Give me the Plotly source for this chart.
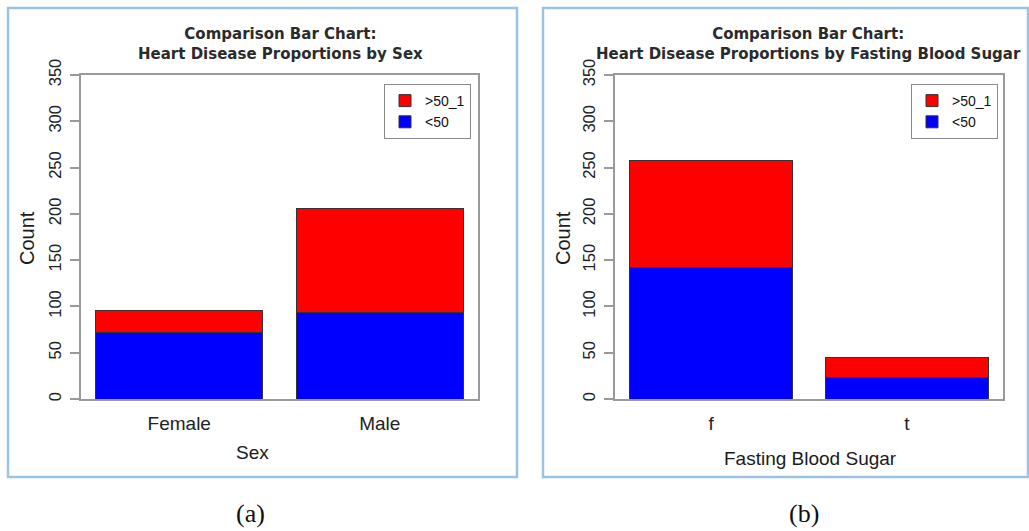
import plotly.graph_objects as go

W, H = 1029, 531

# ---- data ----
sex_categories = ["Female", "Male"]
sex_lt50 = [72, 93]
sex_gt50 = [24, 113]

fbs_categories = ["f", "t"]
fbs_lt50 = [142, 23]
fbs_gt50 = [116, 22]

y_ticks = [0, 50, 100, 150, 200, 250, 300, 350]
series_names = ["<50", ">50_1"]
series_colors = ["#0000FF", "#FF0000"]


def px(x):
    return x / W


def py(y):
    return 1 - y / H


fig = go.Figure()

# left panel
fig.add_trace(go.Bar(x=sex_categories, y=sex_lt50, name=series_names[0],
                     marker=dict(color=series_colors[0], line=dict(color="#333333", width=1)),
                     xaxis="x", yaxis="y", legend="legend"))
fig.add_trace(go.Bar(x=sex_categories, y=sex_gt50, name=series_names[1],
                     marker=dict(color=series_colors[1], line=dict(color="#333333", width=1)),
                     xaxis="x", yaxis="y", legend="legend"))
# right panel
fig.add_trace(go.Bar(x=fbs_categories, y=fbs_lt50, name=series_names[0],
                     marker=dict(color=series_colors[0], line=dict(color="#333333", width=1)),
                     xaxis="x2", yaxis="y2", legend="legend2"))
fig.add_trace(go.Bar(x=fbs_categories, y=fbs_gt50, name=series_names[1],
                     marker=dict(color=series_colors[1], line=dict(color="#333333", width=1)),
                     xaxis="x2", yaxis="y2", legend="legend2"))

axis_line = "#9a9a9a"
tick_font = dict(family="Liberation Sans, Arial, sans-serif", size=16.5, color="#222222")
cat_font = dict(family="Liberation Sans, Arial, sans-serif", size=19, color="#222222")


def xaxis_cfg(domain, anchor):
    return dict(domain=domain, anchor=anchor, range=[-0.49, 1.49], showline=True,
                mirror=True, linecolor=axis_line, linewidth=1.5, ticks="",
                showgrid=False, zeroline=False, tickfont=cat_font, automargin=False,
                ticklabelstandoff=6, fixedrange=True)


def yaxis_cfg(domain, anchor):
    return dict(domain=domain, anchor=anchor, range=[0, 350], tickvals=y_ticks,
                showline=True, mirror=True, linecolor=axis_line, linewidth=1.5,
                ticks="outside", ticklen=9, tickcolor=axis_line, tickwidth=1.5,
                showgrid=False, zeroline=False, tickangle=-90, tickfont=tick_font,
                automargin=False, ticklabelstandoff=3, fixedrange=True)


legend_common = dict(xanchor="left", yanchor="top", bgcolor="white",
                     bordercolor="#8a8a8a", borderwidth=1, traceorder="reversed",
                     font=dict(family="Liberation Sans, Arial, sans-serif", size=14, color="#111111"),
                     tracegroupgap=0)

fig.update_layout(
    template="none",
    width=W, height=H,
    margin=dict(l=0, r=0, t=0, b=0, pad=0, autoexpand=False),
    paper_bgcolor="white", plot_bgcolor="white",
    barmode="stack", bargap=1 / 6,
    showlegend=True,
    xaxis=xaxis_cfg([px(81), px(478)], "y"),
    yaxis=yaxis_cfg([py(399), py(75)], "x"),
    xaxis2=xaxis_cfg([px(615), px(1003)], "y2"),
    yaxis2=yaxis_cfg([py(399), py(75)], "x2"),
    legend=dict(x=px(384), y=py(84), **legend_common),
    legend2=dict(x=px(911), y=py(84), **legend_common),
)

# panel borders
for x0, x1 in [(8, 517), (543, 1028)]:
    fig.add_shape(type="rect", xref="paper", yref="paper",
                  x0=px(x0), x1=px(x1), y0=py(477), y1=py(8),
                  line=dict(color="#9cc2e5", width=2.5), layer="below")

title_font = dict(family="DejaVu Sans, Verdana, sans-serif", size=15, color="#2b2b2b")
label_font = dict(family="Liberation Sans, Arial, sans-serif", size=19, color="#1a1a1a")
count_font = dict(family="Liberation Sans, Arial, sans-serif", size=20, color="#1a1a1a")
cap_font = dict(family="Liberation Serif, Times New Roman, serif", size=26, color="#111111")

annotations = [
    dict(text="<b>Comparison Bar Chart:<br>Heart Disease Proportions by Sex</b>",
         x=px(280), y=py(44), font=title_font),
    dict(text="<b>Comparison Bar Chart:<br>Heart Disease Proportions by Fasting Blood Sugar</b>",
         x=px(808), y=py(44), font=title_font),
    dict(text="Sex", x=px(252), y=py(452), font=label_font),
    dict(text="Fasting Blood Sugar", x=px(810), y=py(458), font=label_font),
    dict(text="Count", x=px(27), y=py(238), font=count_font, textangle=-90),
    dict(text="Count", x=px(563), y=py(238), font=count_font, textangle=-90),
    dict(text="(a)", x=px(250), y=py(513), font=cap_font),
    dict(text="(b)", x=px(804), y=py(513), font=cap_font),
]
for a in annotations:
    fig.add_annotation(xref="paper", yref="paper", showarrow=False,
                       xanchor="center", yanchor="middle", **a)

fig.write_html("out.html")
